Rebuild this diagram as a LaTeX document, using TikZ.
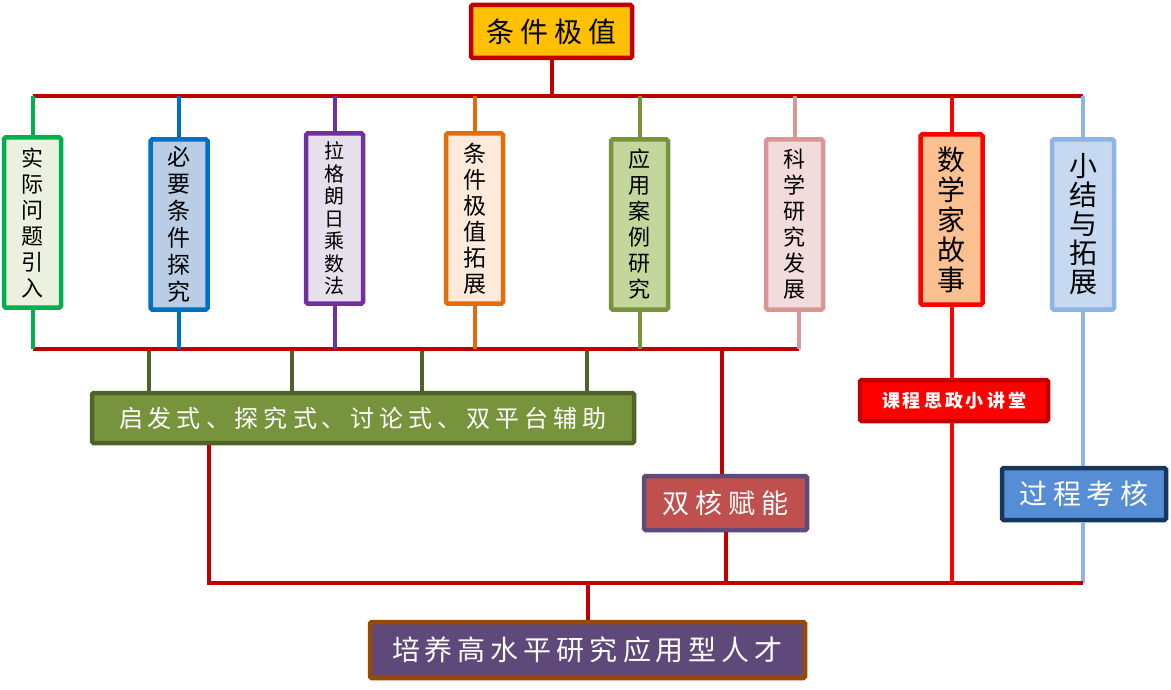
\documentclass[tikz,border=0pt]{standalone}
\usepackage{fontspec}
\newfontfamily\cjk{Noto Sans CJK SC}
\newcommand\spc[2]{\def\spcsep{\kern#1}\kern-#1\spcaux#2\relax}
\def\spcaux#1{\ifx#1\relax\else\spcsep#1\expandafter\spcaux\fi}
\definecolor{dred}{HTML}{C00000}
\definecolor{gold}{HTML}{FFC000}
\definecolor{cA}{HTML}{00B050}\definecolor{fA}{HTML}{EBF1DE}
\definecolor{cB}{HTML}{0070C0}\definecolor{fB}{HTML}{B9CDE5}
\definecolor{cC}{HTML}{7030A0}\definecolor{fC}{HTML}{E6E0EC}
\definecolor{cD}{HTML}{E46C0A}\definecolor{fD}{HTML}{FDEADA}
\definecolor{cE}{HTML}{77933C}\definecolor{fE}{HTML}{C3D69B}
\definecolor{cF}{HTML}{D99694}\definecolor{fF}{HTML}{F2DCDB}
\definecolor{cG}{HTML}{FF0000}\definecolor{fG}{HTML}{FAC090}
\definecolor{cH}{HTML}{8EB4E3}\definecolor{fH}{HTML}{C6D9F1}
\definecolor{dolive}{HTML}{4F6228}
\definecolor{boxred}{HTML}{C0504D}
\definecolor{bpurple}{HTML}{604A7B}
\definecolor{pblue}{HTML}{558ED5}
\definecolor{navy}{HTML}{17375E}
\definecolor{vpurple}{HTML}{5F497A}
\definecolor{brown}{HTML}{984807}
\tikzset{
  vbox/.style={draw, line width=4.5pt, rounded corners=1.5pt, minimum width=57, minimum height=170, inner sep=0pt, align=center, text=black},
  hbox/.style={draw, line width=4.5pt, rounded corners=1.5pt, inner sep=0pt, align=center},
  link/.style={line width=4pt},
}
\begin{document}
\begin{tikzpicture}[x=1pt,y=-1pt]
\useasboundingbox (0,0) rectangle (1171,690);
% top box
\node[hbox, draw=dred, fill=gold, minimum width=161, minimum height=53, font=\cjk\fontsize{28}{30}\selectfont] (top) at (551.5,31.5) {\spc{6pt}{条件极值}};
% vertical boxes
\node[vbox, draw=cA, fill=fA, font=\cjk\fontsize{22}{26}\selectfont] (b1) at (32.5,222.5) {实\\际\\问\\题\\引\\入};
\node[vbox, draw=cB, fill=fB, font=\cjk\fontsize{23}{27}\selectfont] (b2) at (179,224.5) {必\\要\\条\\件\\探\\究};
\node[vbox, draw=cC, fill=fC, font=\cjk\fontsize{20}{22.5}\selectfont] (b3) at (334.5,218.5) {拉\\格\\朗\\日\\乘\\数\\法};
\node[vbox, draw=cD, fill=fD, font=\cjk\fontsize{23}{26}\selectfont] (b4) at (474.5,218.5) {条\\件\\极\\值\\拓\\展};
\node[vbox, draw=cE, fill=fE, font=\cjk\fontsize{22}{26}\selectfont] (b5) at (639.5,224.5) {应\\用\\案\\例\\研\\究};
\node[vbox, draw=cF, fill=fF, font=\cjk\fontsize{22}{26}\selectfont] (b6) at (794.5,224.5) {科\\学\\研\\究\\发\\展};
\node[vbox, draw=cG, fill=fG, minimum width=62, font=\cjk\fontsize{28}{30}\selectfont] (b7) at (951.5,219.5) {数\\学\\家\\故\\事};
\node[vbox, draw=cH, fill=fH, minimum width=62, font=\cjk\fontsize{28}{29}\selectfont] (b8) at (1083,224.5) {小\\结\\与\\拓\\展};
% middle boxes
\node[hbox, draw=dolive, fill=cE, text=white, minimum width=542, minimum height=50, font=\cjk\fontsize{24}{26}\selectfont] (g) at (363,418) {\spc{5pt}{启发式、探究式、讨论式、双平台辅助}};
\node[hbox, draw=bpurple, fill=boxred, text=white, minimum width=163, minimum height=54, font=\cjk\fontsize{27}{29}\selectfont] (sh) at (725.5,503) {\spc{6pt}{双核赋能}};
\node[hbox, draw=dred, fill=cG, text=white, minimum width=188, minimum height=41, font=\cjk\bfseries\fontsize{18}{20}\selectfont] (kc) at (954,400.5) {\spc{3pt}{课程思政小讲堂}};
\node[hbox, draw=navy, fill=pblue, text=white, minimum width=164, minimum height=52, font=\cjk\fontsize{28}{30}\selectfont] (gc) at (1084,494) {\spc{6pt}{过程考核}};
\node[hbox, draw=brown, fill=vpurple, text=white, minimum width=435, minimum height=56, font=\cjk\fontsize{28}{30}\selectfont] (res) at (587.5,650) {\spc{5pt}{培养高水平研究应用型人才}};
% coordinates
\coordinate (T) at (0,96);
\coordinate (M) at (0,349);
\coordinate (B) at (0,583);
% top connectors
\draw[link, dred] (top.south) -- (top.south |- T);
\draw[link, dred] (b1.north |- T) -- (b8.north |- T);
\foreach \b/\c in {b1/cA,b2/cB,b3/cC,b4/cD,b5/cE,b6/cF,b7/cG,b8/cH}
  \draw[link, \c] (\b.north) -- (\b.north |- T);
% lower connectors of first six
\draw[link, dred] (b1.south |- M) -- ([xshift=4pt]b6.south |- M);
\foreach \b/\c in {b1/cA,b2/cB,b3/cC,b4/cD,b5/cE}
  \draw[link, \c] (\b.south) -- (\b.south |- M);
\draw[link, cF] ([xshift=4pt]b6.south) -- ([xshift=4pt]b6.south |- M);
% olive short links to green box
\foreach \xx in {149,292,422,587}
  \draw[link, dolive] (\xx,351) -- (g.north -| \xx,0);
% red link to double core
\draw[link, dred] (sh.north -| 722,0) -- (722,351);
% right side
\draw[link, cG] (b7.south) -- (kc.north -| b7.south);
\draw[link, cG] (kc.south -| b7.south) -- (b7.south |- B);
\draw[link, cH] (b8.south) -- (gc.north -| b8.south);
\draw[link, cH] (gc.south -| b8.south) -- (b8.south |- B);
% bottom collection
\draw[link, dred] (g.south -| 209,0) -- (209,583) -- (b8.south |- B);
\draw[link, dred] (sh.south) -- (sh.south |- B);
\draw[link, cG] (b7.south |- kc.south) -- (b7.south |- B);
\draw[link, dred] (res.north |- B) -- (res.north);
\end{tikzpicture}
\end{document}
